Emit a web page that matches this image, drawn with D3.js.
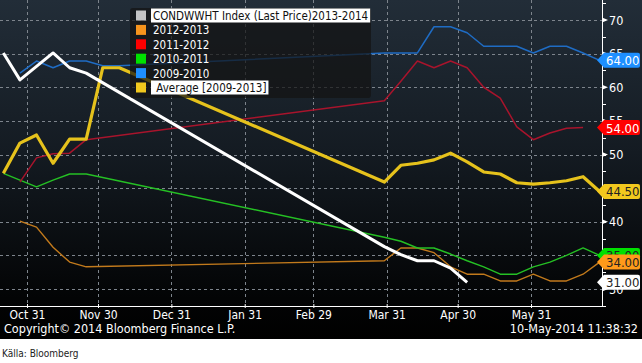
<!DOCTYPE html>
<html lang="en">
<head>
<meta charset="UTF-8">
<title>CONDWWHT seasonal</title>
<script src="https://d3js.org/d3.v7.min.js"></script>
<style>
  body { margin: 0; background: #fff; }
  svg { display: block; }
  text { font-family: "DejaVu Sans Condensed", "Liberation Sans Narrow", sans-serif; }
</style>
</head>
<body>
<div id="chart"></div>
<script>
// weekly observations, plotted on a common (leap year) season axis
const weeks = ["2011-10-21","2011-10-28","2011-11-04","2011-11-11","2011-11-18","2011-11-25",
  "2011-12-02","2011-12-09","2012-03-30","2012-04-06","2012-04-13","2012-04-20","2012-04-27",
  "2012-05-04","2012-05-11","2012-05-18","2012-05-25","2012-06-01","2012-06-08","2012-06-15",
  "2012-06-22","2012-06-29"];

const current  = [65.1, 61.1, 63.1, 65.1, 62.9, 62.1, null, null, 36.3, 35.1, 34.2, 34.2, 33.1, 31.0, null, null, null, null, null, null, null, null];
const y2012_13 = [null, 40.1, 39.2, 36.2, 34.0, 33.3, null, null, 34.2, 36.1, 36.1, 35.4, 33.3, 32.2, 32.2, 31.2, 31.2, 32.2, 31.2, 31.2, 32.2, 34.0];
const y2011_12 = [null, 45.9, 49.5, 50.1, 50.2, 52.2, null, null, 58.0, 60.9, 63.9, 62.9, 63.9, 62.9, 60.0, 58.4, 54.1, 52.2, 53.2, 53.9, 54.0, null];
const y2010_11 = [47.2, 46.2, 45.2, 46.2, 47.1, 47.1, null, null, 37.7, 37.1, 36.1, 36.1, 35.2, 34.2, 33.3, 32.2, 32.2, 33.3, 34.0, 35.0, 36.1, 35.0];
const y2009_10 = [null, 62.1, 63.9, 62.9, 63.9, 63.9, 63.2, 63.2, 65.1, 65.1, 65.1, 69.0, 69.0, 68.1, 66.1, 66.1, 66.1, 65.1, 66.1, 66.1, 65.1, 64.0];
const average  = [47.2, 51.7, 52.9, 48.7, 52.3, 52.3, 62.9, 62.9, 45.9, 48.4, 48.7, 49.2, 50.2, 48.9, 47.4, 47.1, 45.8, 45.6, 45.8, 46.1, 46.7, 44.5];

const legendNames = ["CONDWWHT Index (Last Price)2013-2014", "2012-2013", "2011-2012", "2010-2011", "2009-2010", " Average [2009-2013]"];
const xTickDates = ["2011-10-31","2011-11-30","2011-12-31","2012-01-31","2012-02-29","2012-03-31","2012-04-30","2012-05-31"];
const yTicks = [30, 35, 40, 45, 50, 55, 60, 65, 70];

const W = 642, H = 363;
const parse = d3.timeParse("%Y-%m-%d");

const series = [
  { name: legendNames[1], values: y2012_13, line: "#c27a1c", swatch: "#f7941d", tag: "#ff9a1a", tagText: "#222", w: 1.4 },
  { name: legendNames[3], values: y2010_11, line: "#25c024", swatch: "#00e000", tag: "#00e000", tagText: "#222", w: 1.4 },
  { name: legendNames[2], values: y2011_12, line: "#a8142c", swatch: "#ff0000", tag: "#ff0000", tagText: "#fff", w: 1.5 },
  { name: legendNames[4], values: y2009_10, line: "#1f6cc4", swatch: "#1e8fff", tag: "#1e8fff", tagText: "#fff", w: 1.5 },
  { name: legendNames[5], values: average, line: "#e6c21c", swatch: "#f2c81e", tag: "#f2c81e", tagText: "#222", w: 3.2 },
  { name: legendNames[0], values: current, line: "#ffffff", swatch: "#c4c4c4", tag: "#ffffff", tagText: "#222", w: 3 }
];

const x = d3.scaleTime()
  .domain([parse("2011-10-20"), parse("2012-06-30")])
  .range([1, 602]);
const y = d3.scaleLinear().domain([30, 70]).range([289, 20]);
const plotBottom = 306, plotRight = 602;

const svg = d3.select("#chart").append("svg")
  .attr("width", W).attr("height", H);

const grad = svg.append("defs").append("linearGradient")
  .attr("id", "bg").attr("x1", 0).attr("y1", 0).attr("x2", 0).attr("y2", 1);
grad.append("stop").attr("offset", "0").attr("stop-color", "#222d38");
grad.append("stop").attr("offset", "0.45").attr("stop-color", "#141b22");
grad.append("stop").attr("offset", "0.88").attr("stop-color", "#030405");
grad.append("stop").attr("offset", "1").attr("stop-color", "#000");

svg.append("rect").attr("width", W).attr("height", 339).attr("fill", "url(#bg)");

// grid
svg.append("g").selectAll("line")
  .data(yTicks).join("line")
  .attr("x1", 0).attr("x2", plotRight)
  .attr("y1", d => Math.round(y(d)) + 0.5).attr("y2", d => Math.round(y(d)) + 0.5)
  .attr("stroke", "#7d848c").attr("stroke-dasharray", "3,3");
svg.append("g").selectAll("line")
  .data(xTickDates).join("line")
  .attr("y1", 0).attr("y2", plotBottom)
  .attr("x1", d => Math.round(x(parse(d))) + 0.5).attr("x2", d => Math.round(x(parse(d))) + 0.5)
  .attr("stroke", "#7d848c").attr("stroke-dasharray", "3,3");

// lines
const line = d3.line().x(d => x(d.date)).y(d => y(d.v));
series.forEach(s => {
  s.pts = weeks.map((w, i) => ({ date: parse(w), v: s.values[i] })).filter(d => d.v != null);
  svg.append("path")
    .datum(s.pts)
    .attr("d", line)
    .attr("fill", "none")
    .attr("stroke", s.line)
    .attr("stroke-width", s.w)
    .attr("stroke-linejoin", "round");
});

// legend
const legOrder = [5, 0, 2, 1, 3, 4];
const leg = svg.append("g");
leg.append("rect")
  .attr("x", 130).attr("y", 8).attr("width", 241).attr("height", 90).attr("rx", 3)
  .attr("fill", "#141414").attr("fill-opacity", 0.72);
legOrder.forEach((si, i) => {
  const s = series[si];
  const cy = 15.5 + i * 14.4;
  leg.append("rect").attr("x", 136).attr("y", cy - 5).attr("width", 10).attr("height", 10)
    .attr("fill", s.swatch);
  const hi = i === 0 || i === 5;
  const bg = leg.append("rect");
  const t = leg.append("text")
    .attr("x", 153).attr("y", cy + 4.5)
    .attr("font-size", 11.5)
    .attr("fill", hi ? "#111" : "#fff")
    .attr("xml:space", "preserve")
    .style("white-space", "pre")
    .text(s.name);
  if (hi) {
    const len = t.node().getComputedTextLength();
    bg.attr("x", 151).attr("y", cy - 7).attr("width", len + 4).attr("height", 14).attr("fill", "#fff");
  } else bg.remove();
});

// right axis
const ax = svg.append("g");
ax.append("line").attr("x1", plotRight + 0.5).attr("x2", plotRight + 0.5).attr("y1", 0).attr("y2", plotBottom)
  .attr("stroke", "#fff");
ax.selectAll(".minor").data(d3.range(27.5, 72.6, 2.5)).join("line")
  .attr("x1", plotRight).attr("x2", plotRight + 4)
  .attr("y1", d => Math.round(y(d)) + 0.5).attr("y2", d => Math.round(y(d)) + 0.5)
  .attr("stroke", "#fff");
ax.selectAll("path.tri").data(yTicks).join("path")
  .attr("d", d => `M${plotRight},${y(d) - 2.5}L${plotRight + 6},${y(d)}L${plotRight},${y(d) + 2.5}Z`)
  .attr("fill", "#fff");
ax.selectAll("text").data(yTicks).join("text")
  .attr("x", plotRight + 7).attr("y", d => y(d) + 4.5)
  .attr("font-size", 12.5).attr("fill", "#fff")
  .text(d => d);

// bottom axis
const bx = svg.append("g").attr("transform", `translate(0,${plotBottom})`)
  .call(d3.axisBottom(x).tickValues(xTickDates.map(parse)).tickSize(4).tickFormat(d3.timeFormat("%b %d")));
bx.select(".domain").remove();
bx.selectAll("line").attr("stroke", "#fff").attr("transform", "translate(0,-2)");
bx.selectAll("text").attr("fill", "#fff").attr("font-size", 12)
  .attr("font-family", "DejaVu Sans Condensed, sans-serif").attr("dy", "0.5em");
svg.append("line").attr("x1", 0).attr("x2", plotRight + 1).attr("y1", plotBottom + 0.5).attr("y2", plotBottom + 0.5)
  .attr("stroke", "#fff");

// last value tags
const tagOrder = [1, 2, 3, 4, 0, 5];
tagOrder.forEach(si => {
  const s = series[si];
  const last = s.pts[s.pts.length - 1].v;
  const cy = y(last);
  svg.append("path")
    .attr("d", `M597,${cy}L604,${cy - 7.5}L638,${cy - 7.5}Q640,${cy - 7.5} 640,${cy - 5.5}L640,${cy + 5.5}Q640,${cy + 7.5} 638,${cy + 7.5}L604,${cy + 7.5}Z`)
    .attr("fill", s.tag);
  svg.append("text").attr("x", 606).attr("y", cy + 5)
    .attr("font-size", 13).attr("fill", s.tagText)
    .text(last.toFixed(2));
});

// footer
svg.append("text").attr("x", 4).attr("y", 333).attr("font-size", 12.5).attr("fill", "#fff")
  .text("Copyright\u00a9 2014 Bloomberg Finance L.P.");
svg.append("text").attr("x", 638).attr("y", 333).attr("text-anchor", "end").attr("font-size", 12.5).attr("fill", "#fff")
  .text("10-May-2014 11:38:32");
svg.append("text").attr("x", 2).attr("y", 357).attr("font-size", 10).attr("fill", "#222")
  .style("font-family", "'Liberation Sans Narrow', 'DejaVu Sans Condensed', sans-serif")
  .text("Källa: Bloomberg");
</script>
</body>
</html>
